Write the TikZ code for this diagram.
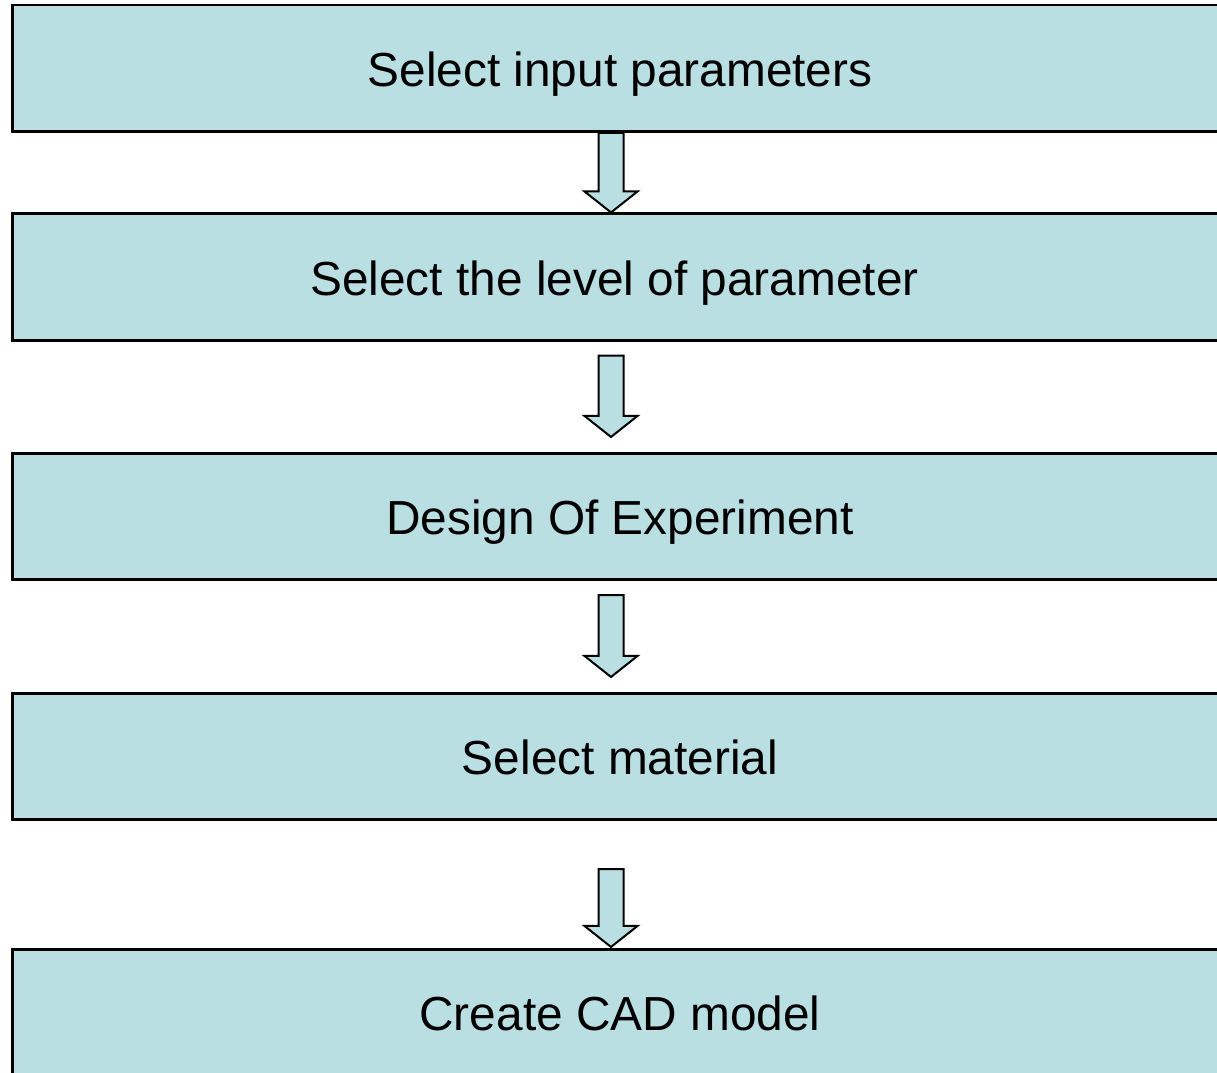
\documentclass[tikz,border=0pt]{standalone}
\usepackage{fontspec}
\setmainfont{Liberation Sans}
\usetikzlibrary{calc}
\definecolor{boxfill}{RGB}{185,223,227}
\tikzset{
  stepbox/.style={draw=black, line width=2.6pt, fill=boxfill,
    minimum width=1215pt, minimum height=126.5pt, inner sep=0pt,
    text height=36pt, text depth=0pt,
    font=\fontsize{47.8}{57}\selectfont},
  blk/.style={draw=black, line width=2pt, fill=boxfill, line join=miter}
}
% hollow block arrow from a top point down to a tip point
\newcommand\blockarrow[2]{%
  \draw[blk] let \p1=(#1), \p2=(#2) in
    (\x1-12.5pt,\y1) -- (\x1+12.5pt,\y1) -- (\x1+12.5pt,\y2+21pt)
    -- (\x1+26.5pt,\y2+21pt) -- (\x1,\y2) -- (\x1-26.5pt,\y2+21pt)
    -- (\x1-12.5pt,\y2+21pt) -- cycle;}
\begin{document}
\begin{tikzpicture}[x=1pt,y=-1pt]
  \useasboundingbox (0,0) rectangle (1217,1072);
  \node[stepbox] (b1) at (620,68.4) {Select input parameters};
  \node[stepbox] (b2) at (620,277) {Select the level of parameter\kern11pt};
  \node[stepbox] (b3) at (620,516.5) {Design Of Experiment};
  \node[stepbox] (b4) at (620,756.5) {Select material};
  \node[stepbox] (b5) at (620,1012.5) {Create CAD model};
  % arrow ends
  \coordinate (a1t) at ($(b1.south)+(-9,0)$);
  \coordinate (a1h) at ($(b2.north)+(-9,0)$);
  \coordinate (a2t) at ($(b2.south)+(-9,14)$);
  \coordinate (a2h) at ($(b3.north)+(-9,-15)$);
  \coordinate (a3t) at ($(b3.south)+(-9,14)$);
  \coordinate (a3h) at ($(b4.north)+(-9,-15)$);
  \coordinate (a4t) at ($(b4.south)+(-9,48)$);
  \coordinate (a4h) at ($(b5.north)+(-9,-1)$);
  \blockarrow{a1t}{a1h}
  \blockarrow{a2t}{a2h}
  \blockarrow{a3t}{a3h}
  \blockarrow{a4t}{a4h}
\end{tikzpicture}
\end{document}
